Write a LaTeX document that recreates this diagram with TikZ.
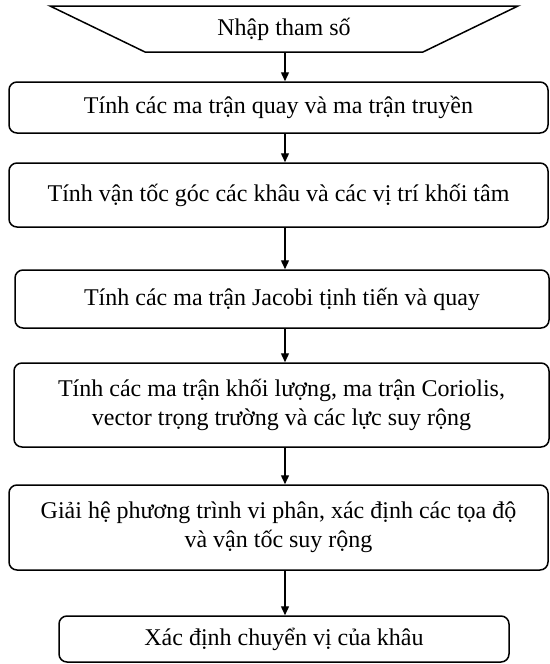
\documentclass[tikz,border=0pt]{standalone}
\usepackage{fontspec}
\setmainfont{Liberation Serif}
\usetikzlibrary{arrows.meta,calc}
\begin{document}
\begin{tikzpicture}[x=1pt,y=-1pt,
  box/.style={draw,line width=1.5pt,rounded corners=8pt,align=center,inner sep=0pt,
    font=\fontsize{24}{29}\selectfont},
  txt/.style={inner sep=0pt,font=\fontsize{24}{29}\selectfont},
  arr/.style={line width=1.4pt,-{Triangle[length=9pt,width=8pt]}}]
\useasboundingbox (0,0) rectangle (549,664);
\coordinate (ax) at (285,0);
% input trapezoid
\coordinate (p1) at (50,6);
\coordinate (p2) at (518,6);
\coordinate (p3) at (423,52);
\coordinate (p4) at (145,52);
\draw[line width=1.5pt] (p1) -- (p2) -- (p3) -- (p4) -- cycle;
\node[txt,minimum width=278,minimum height=46] (t) at (284,29) {Nhập tham số};
\node[box,minimum width=539,minimum height=51] (b1) at (278.5,107.5) {Tính các ma trận quay và ma trận truyền};
\node[box,minimum width=539,minimum height=64] (b2) at (278.5,195) {Tính vận tốc góc các khâu và các vị trí khối tâm};
\node[box,minimum width=534,minimum height=58] (b3) at (282,299) {Tính các ma trận Jacobi tịnh tiến và quay};
\node[box,minimum width=535,minimum height=84] (b4) at (281.5,405) {Tính các ma trận khối lượng, ma trận Coriolis,\\vector trọng trường và các lực suy rộng};
\node[box,minimum width=539,minimum height=85] (b5) at (278.5,527.5) {Giải hệ phương trình vi phân, xác định các tọa độ\\và vận tốc suy rộng};
\node[box,minimum width=450,minimum height=46] (b6) at (284,639) {Xác định chuyển vị của khâu};
\draw[arr] (t.south -| ax) -- (b1.north -| ax);
\draw[arr] (b1.south -| ax) -- (b2.north -| ax);
\draw[arr] (b2.south -| ax) -- (b3.north -| ax);
\draw[arr] (b3.south -| ax) -- (b4.north -| ax);
\draw[arr] (b4.south -| ax) -- (b5.north -| ax);
\draw[arr] (b5.south -| ax) -- (b6.north -| ax);
\end{tikzpicture}
\end{document}
